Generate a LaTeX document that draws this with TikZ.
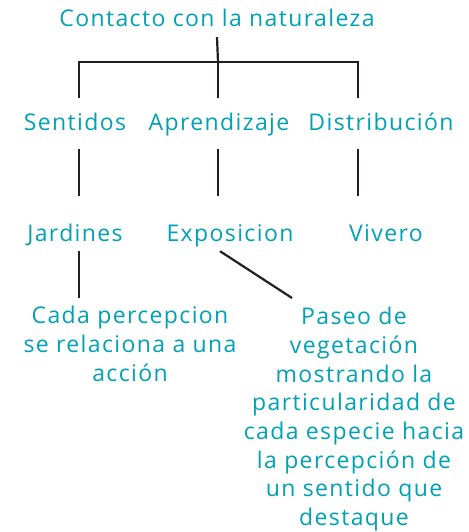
\documentclass[tikz,border=0pt]{standalone}
\usepackage{fontspec}
\setmainfont{Open Sans}[LetterSpace=6]
\usepackage{tikz}
\usetikzlibrary{positioning,calc}
\usepackage{xcolor}
\definecolor{teal}{RGB}{0,161,178}
\definecolor{ink}{RGB}{35,31,32}

\begin{document}
\begin{tikzpicture}[x=1pt, y=1pt,
    tx/.style={text=teal, font=\fontsize{23}{28.7}\selectfont, anchor=base, inner xsep=0pt},
    lvlzero/.style={tx, text height=16pt, text depth=0pt, inner ysep=10pt},
    lvlone/.style={tx, text height=15pt, text depth=0pt, inner ysep=18pt},
    lvltwo/.style={tx, text height=37pt, text depth=0pt, inner ysep=9pt},
    leaf/.style={text=teal, font=\fontsize{23}{28.7}\selectfont, align=center, anchor=north, inner sep=0pt},
    conn/.style={draw=ink, line width=2.2pt}]
            \useasboundingbox (0,0) rectangle (468,532);

            % Title
            \node[lvlzero] (title) at (217,505) {Contacto con la naturaleza};
            \coordinate (bar) at (218,470);

            % Second row
            \node[lvlone] (sent) at (75,401) {Sentidos};
            \node[lvlone] (apre) at (219,401) {Aprendizaje};
            \node[lvlone] (dist) at (381,401) {Distribución};

            % Third row
            \node[lvltwo] (jard) at (75,290) {Jardines};
            \node[lvltwo] (expo) at (230,290) {Exposicion};
            \node[lvltwo] (viv) at (386,290) {Vivero};

            % Leaves
            \node[leaf] (perc) at (130,226) {Cada percepcion\\se relaciona a una\\acción};
            \node[leaf] (paseo) at (354,225) {Paseo de\\vegetación\\mostrando la\\particularidad de\\cada especie hacia\\la percepción de\\un sentido que\\destaque};

            % Connectors
            \draw[conn] (title.south) -- (bar);
            \draw[conn] ([xshift=4pt]sent.north) |- (bar) -| ([xshift=-23pt]dist.north);
            \draw[conn] (apre.north -| bar) -- (bar);
            \draw[conn] ([xshift=4pt]sent.south) -- ([xshift=4pt]jard.north);
            \draw[conn] ([xshift=-1pt]apre.south) -- ([xshift=-12pt]expo.north);
            \draw[conn] ([xshift=-23pt]dist.south) -- ([xshift=-28pt]viv.north);
            \draw[conn] ([xshift=4pt]jard.south) -- ([xshift=-51pt,yshift=8pt]perc.north);
            \draw[conn] ([xshift=-10pt]expo.south) -- ([xshift=-62pt,yshift=9pt]paseo.north);
        \end{tikzpicture}
\end{document}
